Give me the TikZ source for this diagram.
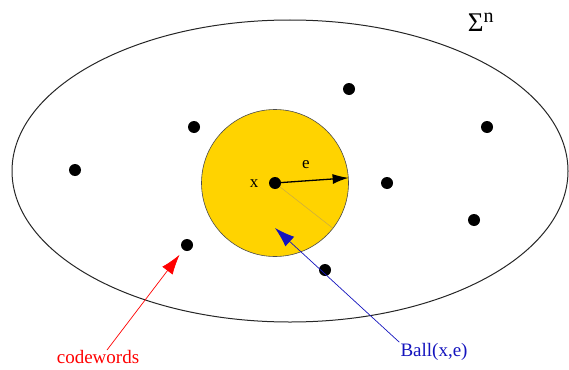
\documentclass[tikz,border=0pt]{standalone}
\usepackage{fontspec}
\setmainfont{Liberation Serif}
\usetikzlibrary{arrows.meta}
\definecolor{ballgold}{RGB}{255,211,0}
\definecolor{radgray}{RGB}{200,170,70}
\definecolor{ballblue}{RGB}{20,20,190}
\tikzset{
  dotnode/.style={circle,fill=black,inner sep=0pt,minimum size=12pt},
  lbl/.style={inner sep=1pt,font=\fontsize{19}{20}\selectfont},
  ptlbl/.style={inner sep=1pt,font=\fontsize{17}{18}\selectfont},
  callout/.style={line width=0.7pt,-{Latex[length=20pt,width=13pt]}}
}
\begin{document}
\begin{tikzpicture}[x=1pt,y=-1pt]
\useasboundingbox (0,0) rectangle (569,369);
% universe
\draw[line width=1pt,black!85] (290,171) ellipse [x radius=278, y radius=151];
\node[inner sep=1pt,font=\fontsize{27}{28}\selectfont] (sig) at (481,22) {Σ\textsuperscript{\fontsize{20}{20}\selectfont n}};
% ball
\node[circle,fill=ballgold,draw=black!70,line width=0.6pt,minimum size=147pt,inner sep=0pt] (B) at (275,183) {};
\node[dotnode] (xc) at (275,183) {};
\draw[radgray,line width=0.5pt] (xc) -- (B.-38);
\draw[line width=1.3pt,-{Latex[length=16pt,width=10pt]}] (xc) -- (B.4);
\node[ptlbl] (xl) at (254,184) {x};
\node[ptlbl] (el) at (306,165) {e};
% codewords
\node[dotnode] (d1) at (349,89) {};
\node[dotnode] (d2) at (194,127) {};
\node[dotnode] (d3) at (487,127) {};
\node[dotnode] (d4) at (75,170) {};
\node[dotnode] (d5) at (387,183) {};
\node[dotnode] (d6) at (474,220) {};
\node[dotnode] (d7) at (187,245) {};
\node[dotnode] (d8) at (325,270) {};
% labels
\node[lbl,text=red] (cw) at (98,357) {codewords};
\node[lbl,text=ballblue] (bl) at (434,352) {Ball(x,e)};
\coordinate (cwstart) at (107,350);
\coordinate (balltip) at (275,228);
\draw[callout,red,shorten >=6pt] (cwstart) -- (d7);
\draw[callout,ballblue] (bl.north west) -- (balltip);
\end{tikzpicture}
\end{document}
